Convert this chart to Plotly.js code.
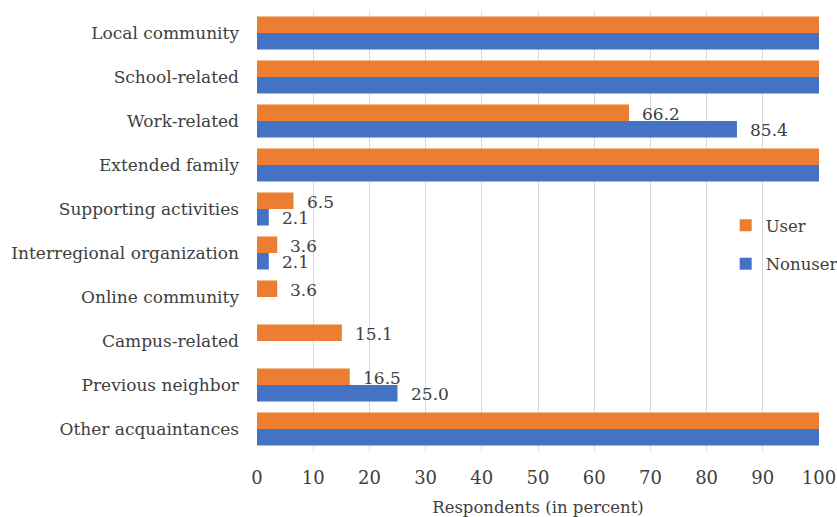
<!DOCTYPE html>
<html>
<head>
<meta charset="utf-8">
<script src="https://cdn.plot.ly/plotly-3.0.1.min.js"></script>
<style>html,body{margin:0;padding:0;background:#fff;}#chart{width:837px;height:517px;}</style>
</head>
<body>
<div id="chart"></div>
<script>
const categories = ["Local community","School-related","Work-related","Extended family","Supporting activities","Interregional organization","Online community","Campus-related","Previous neighbor","Other acquaintances"];
const userValues = [100, 100, 66.2, 100, 6.5, 3.6, 3.6, 15.1, 16.5, 100];
const nonuserValues = [100, 100, 85.4, 100, 2.1, 2.1, null, null, 25.0, 100];
const xTicks = [0,10,20,30,40,50,60,70,80,90,100];

const FONT = "DejaVu Serif";
const TXT = "#404040";

const traces = [
  {type:'bar', orientation:'h', name:'User', y:categories, x:userValues, legendgroup:'u',
   marker:{color:'#ED7D31'}, hoverinfo:'none'},
  {type:'bar', orientation:'h', name:'Nonuser', y:categories, x:nonuserValues, legendgroup:'n',
   marker:{color:'#4472C4'}, hoverinfo:'none'}
];

const annotations = [];
function addLabels(vals, shift){
  vals.forEach((v,i)=>{
    if(v!==null && v<100){
      annotations.push({x:v, y:categories[i], xref:'x', yref:'y', text:v.toFixed(1),
        showarrow:false, xanchor:'left', yanchor:'middle', xshift:12, yshift:shift,
        borderpad:0, font:{family:FONT, size:17, color:TXT}});
    }
  });
}
addLabels(userValues, 7);
addLabels(nonuserValues, -9);

const layout = {
  width:837, height:517,
  margin:{l:257, r:18, t:11, b:66, autoexpand:false},
  paper_bgcolor:'#fff', plot_bgcolor:'#fff',
  barmode:'group', bargap:0.25, bargroupgap:0,
  font:{family:FONT, size:17, color:TXT},
  xaxis:{range:[0,100], tickvals:xTicks, ticktext:xTicks.map(String), automargin:false,
    showgrid:true, gridcolor:'#d9d9d9', gridwidth:1, zeroline:false,
    ticks:'', ticklabelstandoff:14,
    tickfont:{family:FONT, size:18, color:TXT},
    title:{text:'Respondents (in percent)', font:{family:FONT, size:16.5, color:TXT}, standoff:14},
    fixedrange:true},
  yaxis:{autorange:'reversed', showgrid:false, zeroline:false, showline:false, automargin:false,
    ticks:'', ticklabelstandoff:17,
    tickfont:{family:FONT, size:17, color:TXT}, fixedrange:true},
  legend:{xref:'container', yref:'container', x:0.867, y:0.527, xanchor:'left', yanchor:'middle', bgcolor:'rgba(0,0,0,0)',
    font:{family:FONT, size:16.5, color:TXT}, itemwidth:30, tracegroupgap:14},
  annotations:annotations,
  showlegend:true
};

Plotly.newPlot('chart', traces, layout, {displayModeBar:false, staticPlot:true});
</script>
</body>
</html>
